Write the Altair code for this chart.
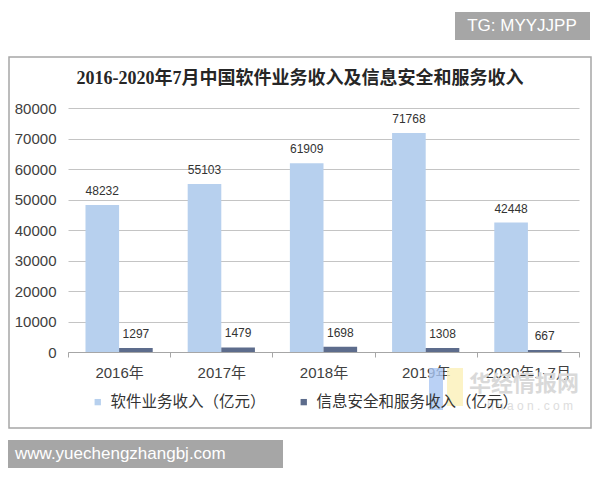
import altair as alt
import pandas as pd

categories = ["2016年", "2017年", "2018年", "2019年", "2020年1-7月"]
software = [48232, 55103, 61909, 71768, 42448]
security = [1297, 1479, 1698, 1308, 667]
series_names = ["软件业务收入（亿元）", "信息安全和服务收入（亿元）"]
y_ticks = [0, 10000, 20000, 30000, 40000, 50000, 60000, 70000, 80000]
title_text = "2016-2020年7月中国软件业务收入及信息安全和服务收入"

rows = []
for c, s, v in zip(categories, software, security):
    rows.append({"cat": c, "series": series_names[0], "value": s})
    rows.append({"cat": c, "series": series_names[1], "value": v})
df = pd.DataFrame(rows)
one = pd.DataFrame({"a": [0]})

SANS = "Liberation Sans, Noto Sans CJK SC, sans-serif"

x = alt.X("cat:N", sort=categories, title=None,
          scale=alt.Scale(paddingInner=0, paddingOuter=0),
          axis=alt.Axis(labelAngle=0, labelFontSize=15, labelColor="#404040", labelFont=SANS,
                        tickBand="extent", domainColor="#A6A6A6", tickColor="#A6A6A6",
                        tickSize=5, labelPadding=8, grid=False))
xo = alt.XOffset("series:N", sort=series_names,
                 scale=alt.Scale(paddingOuter=0.52, paddingInner=0))
y = alt.Y("value:Q", title=None, scale=alt.Scale(domain=[0, 80000]),
          axis=alt.Axis(values=y_ticks, labelFontSize=15, labelColor="#404040", labelFont=SANS,
                        domain=False, ticks=False, labelPadding=12, gridColor="#C4C4C4",
                        format="d"))
color = alt.Color("series:N", sort=series_names,
                  scale=alt.Scale(domain=series_names, range=["#B7D0EE", "#5D6C8C"]),
                  legend=alt.Legend(orient="none", legendX=22, legendY=286, direction="horizontal",
                                    title=None, symbolType="square", symbolSize=40,
                                    symbolStrokeWidth=0, labelFontSize=15.5, labelFont=SANS,
                                    labelColor="#333333", columnPadding=30, labelOffset=5,
                                    labelLimit=300))

frame = alt.Chart(one).mark_rect(filled=False, stroke="#A6A6A6", strokeWidth=1.5).encode(
    x=alt.value(-59), x2=alt.value(523), y=alt.value(-51), y2=alt.value(320))

title = alt.Chart(one).mark_text(text=title_text, fontSize=18, fontWeight="bold",
                                 color="#262626", align="center", baseline="middle",
                                 font="Liberation Serif, Noto Sans CJK SC, serif").encode(
    x=alt.value(232), y=alt.value(-29))

logo_blue = alt.Chart(one).mark_rect(fill="#A9C6F2", opacity=0.8).encode(
    x=alt.value(361), x2=alt.value(375), y=alt.value(260), y2=alt.value(302))
logo_yellow = alt.Chart(one).mark_rect(fill="#FBF0B8", opacity=0.8).encode(
    x=alt.value(379), x2=alt.value(395), y=alt.value(260), y2=alt.value(298))
wm_text = alt.Chart(one).mark_text(text="华经情报网", fontSize=22, fontWeight="bold",
                                   color="#D9D9D9", font=SANS).encode(
    x=alt.value(456), y=alt.value(276))
wm_text2 = alt.Chart(one).mark_text(text="h u a o n . c o m", fontSize=12, color="#DDDDDD",
                                    font=SANS).encode(
    x=alt.value(462), y=alt.value(298))

bars = alt.Chart(df).mark_bar().encode(x=x, xOffset=xo, y=y, color=color)
labels = alt.Chart(df).mark_text(dy=-7, baseline="bottom", fontSize=12, color="#333333",
                                 font=SANS).encode(
    x=x, xOffset=xo, y=y, text=alt.Text("value:Q", format="d"))

tg_box = alt.Chart(one).mark_rect(fill="#A6A6A6").encode(
    x=alt.value(387), x2=alt.value(522), y=alt.value(-96), y2=alt.value(-68))
tg_text = alt.Chart(one).mark_text(text="TG: MYYJJPP", fontSize=17, color="white",
                                   font=SANS, align="center", baseline="middle").encode(
    x=alt.value(454), y=alt.value(-82))
www_box = alt.Chart(one).mark_rect(fill="#A6A6A6").encode(
    x=alt.value(-60), x2=alt.value(215), y=alt.value(332), y2=alt.value(360))
www_text = alt.Chart(one).mark_text(text="www.yuechengzhangbj.com", fontSize=17, color="white",
                                    font=SANS, align="left", baseline="middle").encode(
    x=alt.value(-53), y=alt.value(346))

chart = alt.layer(
    frame, title, logo_blue, logo_yellow, wm_text, wm_text2, bars, labels,
    tg_box, tg_text, www_box, www_text
).properties(
    width=511, height=244,
    autosize=alt.AutoSizeParams(type="none"),
    padding={"left": 60, "top": 100, "right": 13, "bottom": 120},
    background="white",
).configure_view(strokeWidth=0)

chart.save("out.html", embed_options={"renderer": "svg", "actions": False})
